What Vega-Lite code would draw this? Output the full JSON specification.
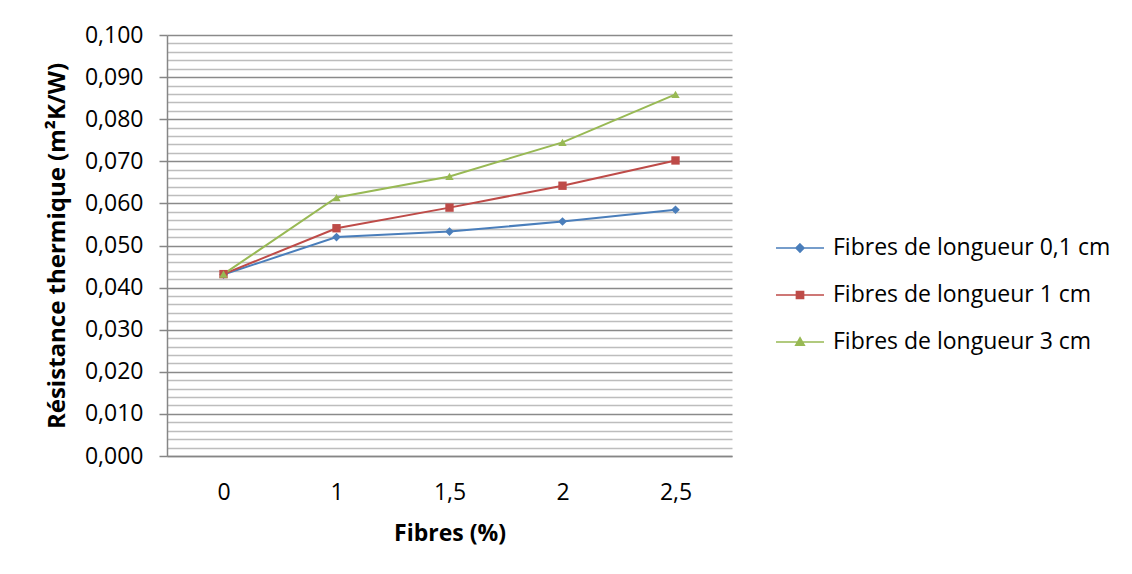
{
  "$schema": "https://vega.github.io/schema/vega-lite/v6.json",
  "width": 565,
  "height": 421,
  "autosize": "none",
  "padding": {"left": 167, "top": 35, "right": 400, "bottom": 118},
  "background": "white",
  "config": {
    "font": "Open Sans",
    "view": {"stroke": null},
    "axis": {"labelFont": "Open Sans", "titleFont": "Open Sans", "labelColor": "#000000", "titleColor": "#000000"}
  },
  "data": {
    "values": [
      {"fibres": "0", "serie": "Fibres de longueur 0,1 cm", "resistance": 0.0431},
      {"fibres": "1", "serie": "Fibres de longueur 0,1 cm", "resistance": 0.0520},
      {"fibres": "1,5", "serie": "Fibres de longueur 0,1 cm", "resistance": 0.0533},
      {"fibres": "2", "serie": "Fibres de longueur 0,1 cm", "resistance": 0.0557},
      {"fibres": "2,5", "serie": "Fibres de longueur 0,1 cm", "resistance": 0.0585},
      {"fibres": "0", "serie": "Fibres de longueur 1 cm", "resistance": 0.0432},
      {"fibres": "1", "serie": "Fibres de longueur 1 cm", "resistance": 0.0541},
      {"fibres": "1,5", "serie": "Fibres de longueur 1 cm", "resistance": 0.0590},
      {"fibres": "2", "serie": "Fibres de longueur 1 cm", "resistance": 0.0642},
      {"fibres": "2,5", "serie": "Fibres de longueur 1 cm", "resistance": 0.0702},
      {"fibres": "0", "serie": "Fibres de longueur 3 cm", "resistance": 0.0432},
      {"fibres": "1", "serie": "Fibres de longueur 3 cm", "resistance": 0.0614},
      {"fibres": "1,5", "serie": "Fibres de longueur 3 cm", "resistance": 0.0664},
      {"fibres": "2", "serie": "Fibres de longueur 3 cm", "resistance": 0.0745},
      {"fibres": "2,5", "serie": "Fibres de longueur 3 cm", "resistance": 0.0859}
    ]
  },
  "encoding": {
    "x": {
      "field": "fibres",
      "type": "ordinal",
      "sort": ["0", "1", "1,5", "2", "2,5"],
      "axis": {
        "title": "Fibres (%)",
        "titleFontSize": 23,
        "titleFontWeight": "bold",
        "titlePadding": 18,
        "labelFontSize": 23,
        "labelAngle": 0,
        "labelPadding": 25,
        "ticks": false,
        "grid": false,
        "domainColor": "#868686",
        "domainWidth": 1.5
      }
    },
    "y": {
      "field": "resistance",
      "type": "quantitative",
      "scale": {"domain": [0, 0.1], "nice": false, "zero": true},
      "axis": {
        "title": "Résistance thermique (m²K/W)",
        "titleFontSize": 24,
        "titleFontWeight": "bold",
        "titlePadding": 15,
        "labelFontSize": 23,
        "labelPadding": 16,
        "values": [0, 0.002, 0.004, 0.006, 0.008, 0.01, 0.012, 0.014, 0.016, 0.018, 0.02, 0.022, 0.024, 0.026, 0.028, 0.03, 0.032, 0.034, 0.036, 0.038, 0.04, 0.042, 0.044, 0.046, 0.048, 0.05, 0.052, 0.054, 0.056, 0.058, 0.06, 0.062, 0.064, 0.066, 0.068, 0.07, 0.072, 0.074, 0.076, 0.078, 0.08, 0.082, 0.084, 0.086, 0.088, 0.09, 0.092, 0.094, 0.096, 0.098, 0.1],
        "labelExpr": "round(datum.value * 500) % 5 === 0 ? replace(format(datum.value, '.3f'), '.', ',') : ''",
        "grid": true,
        "gridColor": {"condition": {"test": "round(datum.value * 500) % 5 === 0", "value": "#8a8a8a"}, "value": "#bdbdbd"},
        "gridWidth": 1.5,
        "tickSize": 8,
        "tickColor": {"condition": {"test": "round(datum.value * 500) % 5 === 0", "value": "#868686"}, "value": "transparent"},
        "tickWidth": 1.5,
        "domainColor": "#868686",
        "domainWidth": 1.5
      }
    },
    "color": {
      "field": "serie",
      "type": "nominal",
      "scale": {
        "domain": ["Fibres de longueur 0,1 cm", "Fibres de longueur 1 cm", "Fibres de longueur 3 cm"],
        "range": ["#4A7EBB", "#BE4B48", "#98B954"]
      },
      "legend": {
        "title": null,
        "orient": "none",
        "legendX": 608,
        "legendY": 188,
        "padding": 0,
        "labelFontSize": 23,
        "labelFont": "Open Sans",
        "labelColor": "#000000",
        "labelLimit": 0,
        "labelOffset": 8,
        "rowPadding": 10,
        "symbolSize": 2304,
        "symbolStrokeWidth": 1.5,
        "encode": {
          "symbols": {
            "update": {
              "shape": {"signal": "datum.value === 'Fibres de longueur 0,1 cm' ? 'M-1,0H1M0,-0.17L0.17,0L0,0.17L-0.17,0Z' : datum.value === 'Fibres de longueur 1 cm' ? 'M-1,0H1M-0.15,-0.15H0.15V0.15H-0.15Z' : 'M-1,0H1M0,-0.18L0.18,0.14H-0.18Z'"},
              "fill": {"scale": "color", "field": "value"},
              "stroke": {"scale": "color", "field": "value"},
              "fillOpacity": {"value": 1},
              "strokeWidth": {"value": 1.5}
            }
          }
        }
      }
    }
  },
  "layer": [
    {
      "mark": {"type": "line", "strokeWidth": 2}
    },
    {
      "transform": [{"filter": "datum.serie === 'Fibres de longueur 0,1 cm'"}],
      "mark": {"type": "point", "filled": true, "opacity": 1, "size": 75, "shape": "diamond"}
    },
    {
      "transform": [{"filter": "datum.serie === 'Fibres de longueur 1 cm'"}],
      "mark": {"type": "point", "filled": true, "opacity": 1, "size": 70, "shape": "square"}
    },
    {
      "transform": [{"filter": "datum.serie === 'Fibres de longueur 3 cm'"}],
      "mark": {"type": "point", "filled": true, "opacity": 1, "size": 70, "shape": "triangle-up"}
    }
  ]
}
